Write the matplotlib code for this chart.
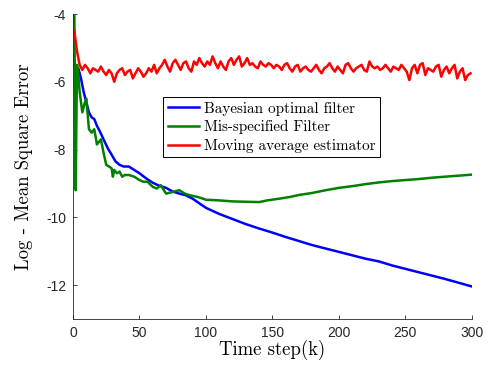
import matplotlib
matplotlib.use("Agg")
import matplotlib.pyplot as plt
import numpy as np

# Bayesian optimal filter (blue)
k_bayes = [1, 2, 4, 6, 8, 10, 12, 14, 16, 18, 20, 23, 26, 29, 32, 35, 38, 42, 46, 50,
           55, 60, 65, 70, 75, 80, 85, 90, 100, 110, 120, 130, 140, 150, 160, 170, 180,
           190, 200, 210, 220, 230, 240, 250, 260, 270, 280, 290, 300]
mse_bayes = [-5.5, -5.6, -5.6, -5.9, -6.3, -6.6, -6.9, -7.05, -7.1, -7.3, -7.45, -7.7,
             -7.95, -8.15, -8.35, -8.45, -8.5, -8.5, -8.6, -8.7, -8.85, -8.98, -9.07,
             -9.13, -9.24, -9.3, -9.35, -9.45, -9.72, -9.9, -10.05, -10.2, -10.33, -10.45,
             -10.58, -10.7, -10.82, -10.92, -11.02, -11.12, -11.22, -11.3, -11.42, -11.52,
             -11.62, -11.72, -11.82, -11.93, -12.04]

# Mis-specified filter (green)
k_mis = [1, 2, 3, 4, 5, 7, 9, 10, 12, 14, 16, 18, 19, 21, 23, 25, 27, 29, 30, 31, 33, 35,
         37, 39, 42, 46, 50, 53, 56, 60, 63, 66, 70, 75, 80, 84, 88, 94, 100, 110, 120,
         130, 140, 146, 155, 163, 170, 180, 190, 200, 210, 220, 230, 240, 250, 260, 270,
         280, 290, 300]
mse_mis = [-4.0, -9.2, -5.5, -5.8, -6.3, -6.9, -6.6, -6.5, -7.4, -7.5, -7.4, -7.85, -7.8,
           -7.7, -8.1, -8.45, -8.5, -8.55, -8.8, -8.6, -8.7, -8.65, -8.8, -8.75, -8.75,
           -8.8, -8.9, -8.95, -8.95, -9.1, -9.15, -9.05, -9.3, -9.25, -9.2, -9.3, -9.35,
           -9.4, -9.48, -9.5, -9.53, -9.54, -9.55, -9.5, -9.45, -9.4, -9.34, -9.28, -9.2,
           -9.13, -9.08, -9.02, -8.97, -8.93, -8.9, -8.87, -8.83, -8.8, -8.77, -8.74]

# Moving average estimator (red), every 2nd time step
k_avg = list(range(1, 301, 2))
mse_avg = [-4.5, -5.1, -5.5, -5.65, -5.5, -5.6, -5.75, -5.6, -5.65, -5.7,
           -5.55, -5.7, -5.8, -5.65, -5.75, -6.0, -5.75, -5.65, -5.6, -5.8,
           -5.7, -5.65, -5.9, -5.75, -5.6, -5.7, -5.85, -5.75, -5.6, -5.7,
           -5.5, -5.75, -5.6, -5.5, -5.35, -5.55, -5.7, -5.45, -5.35, -5.5,
           -5.65, -5.45, -5.4, -5.6, -5.7, -5.4, -5.5, -5.3, -5.45, -5.55,
           -5.4, -5.5, -5.25, -5.45, -5.6, -5.4, -5.55, -5.65, -5.4, -5.3,
           -5.5, -5.35, -5.25, -5.55, -5.45, -5.3, -5.5, -5.45, -5.55, -5.6,
           -5.4, -5.5, -5.55, -5.45, -5.5, -5.6, -5.5, -5.55, -5.65, -5.5,
           -5.45, -5.6, -5.7, -5.55, -5.5, -5.7, -5.6, -5.55, -5.65, -5.7,
           -5.6, -5.5, -5.65, -5.75, -5.6, -5.55, -5.45, -5.6, -5.7, -5.55,
           -5.65, -5.75, -5.5, -5.45, -5.6, -5.7, -5.6, -5.55, -5.5, -5.65,
           -5.7, -5.4, -5.55, -5.6, -5.55, -5.65, -5.6, -5.5, -5.6, -5.7,
           -5.55, -5.6, -5.65, -5.5, -5.6, -5.7, -5.95, -5.6, -5.5, -5.75,
           -5.5, -5.45, -5.8, -5.6, -5.65, -5.7, -5.55, -5.5, -5.85, -5.65,
           -5.55, -5.75, -5.6, -5.5, -5.9, -5.7, -5.6, -5.95, -5.8, -5.75]

x_ticks = [0, 50, 100, 150, 200, 250, 300]
y_ticks = [-12, -10, -8, -6, -4]


def main():
    plt.rcParams["axes.unicode_minus"] = False
    plt.rcParams["font.family"] = ["Liberation Sans", "DejaVu Sans"]

    fig = plt.figure(figsize=(4.91, 3.69), dpi=100)
    ax = fig.add_axes([0.1487, 0.1355, 0.8123, 0.8265])

    ax.plot(k_bayes, mse_bayes, color="#0000ff", lw=1.8, label="Bayesian optimal filter")
    ax.plot(k_mis, mse_mis, color="#008000", lw=1.8, label="Mis-specified Filter")
    ax.plot(k_avg, mse_avg, color="#ff0000", lw=1.8, label="Moving average estimator")

    ax.set_xlim(0, 300)
    ax.set_ylim(-13, -4)
    ax.set_xticks(x_ticks)
    ax.set_yticks(y_ticks)
    ax.tick_params(direction="in", length=3, width=0.6, colors="#262626",
                   labelsize=10, pad=5)
    for side in ["top", "right"]:
        ax.spines[side].set_visible(False)
    for side in ["left", "bottom"]:
        ax.spines[side].set_color("#262626")
        ax.spines[side].set_linewidth(0.6)

    ax.set_xlabel("Time step(k)", family="cmr10", fontsize=13.5, labelpad=0)
    ax.set_ylabel("Log - Mean Square Error", family="cmr10", fontsize=13.5, labelpad=9)

    leg = ax.legend(loc="upper left", bbox_to_anchor=(0.2256, 0.728),
                    prop={"family": "cmr10", "size": 10.9}, fancybox=False,
                    framealpha=1, edgecolor="black", handlelength=2.1,
                    handletextpad=0.3, borderpad=0.3, labelspacing=0.3,
                    borderaxespad=0)
    leg.get_frame().set_linewidth(0.7)

    fig.savefig("out.png", dpi=100)


if __name__ == "__main__":
    main()
